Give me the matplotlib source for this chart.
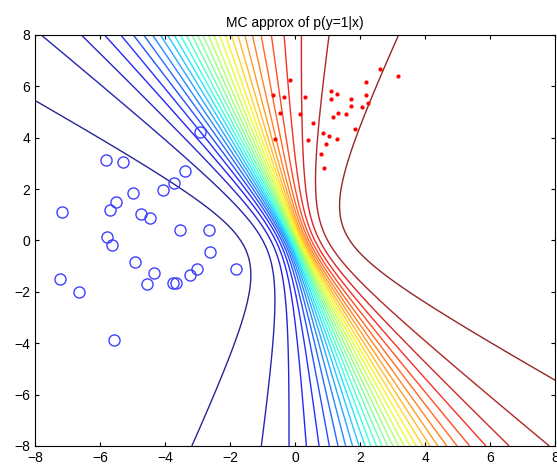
import numpy as np
import matplotlib
matplotlib.use("Agg")
import matplotlib.pyplot as plt

plt.rcParams["font.family"] = ["Liberation Sans", "DejaVu Sans"]

# class 0 points (blue circles)
x0_1 = [-5.83, -5.30, -3.40, -3.73, -4.07, -5.00, -5.52, -5.71, -7.18, -4.75,
        -4.48, -3.53, -2.64, -5.79, -5.65, -2.61, -4.93, -4.33, -3.03, -3.25,
        -1.82, -7.22, -4.55, -3.76, -3.66, -6.65, -5.56, -2.94]
x0_2 = [3.14, 3.06, 2.70, 2.25, 1.95, 1.84, 1.49, 1.17, 1.10, 1.04,
        0.88, 0.39, 0.42, 0.14, -0.17, -0.43, -0.83, -1.25, -1.10, -1.36,
        -1.12, -1.49, -1.71, -1.65, -1.65, -2.00, -3.88, 4.24]

# class 1 points (red dots)
x1_1 = [-0.16, -0.67, -0.35, 0.30, -0.46, 0.16, 0.55, -0.62, 0.40, 0.84,
        1.04, 1.28, 0.95, 0.80, 0.89, 1.11, 1.28, 1.10, 1.17, 1.32,
        1.55, 1.71, 1.72, 2.06, 2.18, 2.19, 2.24, 1.84, 2.60, 3.17]
x1_2 = [6.26, 5.68, 5.59, 5.58, 4.95, 4.93, 4.59, 3.96, 3.92, 4.18,
        4.05, 3.96, 3.77, 3.37, 2.81, 5.80, 5.69, 5.50, 4.82, 4.97,
        4.93, 5.49, 5.23, 5.20, 6.16, 5.65, 5.36, 4.33, 6.67, 6.41]

# gaussian posterior over the weights (estimated from the contours)
w_mean = [3.767, 1.376]
w_cov = [[2.979, 0.904],
         [0.904, 1.175]]

n_levels = 30

# p(y=1|x) = E[sigmoid(w.x)], w.x ~ N(m.x, x'Sx), averaged on a fixed grid of z
z = np.linspace(-7, 7, 1401)
pz = np.exp(-z**2 / 2)
pz = pz / pz.sum()

xs = np.linspace(-8, 8, 241)
gx, gy = np.meshgrid(xs, xs)
G = np.column_stack([gx.ravel(), gy.ravel()])
mu = G @ np.array(w_mean)
sd = np.sqrt(np.einsum("ij,jk,ik->i", G, np.array(w_cov), G))
A = mu[:, None] + sd[:, None] * z[None, :]
P = ((1 / (1 + np.exp(-A))) @ pz).reshape(gx.shape)

fig = plt.figure(figsize=(5.57, 4.66), dpi=100)
ax = fig.add_axes([0.063, 0.043, 0.934, 0.882])
levels = np.arange(1, n_levels + 1) / (n_levels + 1)
ax.contour(gx, gy, P, levels=levels, cmap="jet", linewidths=1.0, alpha=0.85)
ax.plot(x0_1, x0_2, "o", mfc="none", mec=(0.25, 0.25, 1.0), ms=8, mew=1.0)
ax.plot(x1_1, x1_2, ".", color="red", ms=4)

ax.set_xlim(-8, 8)
ax.set_ylim(-8, 8)
ax.set_xticks(range(-8, 9, 2))
ax.set_yticks(range(-8, 9, 2))
ax.tick_params(direction="in", top=True, right=True, labelsize=10, length=3)
ax.set_title("MC approx of p(y=1|x)", fontsize=10)

fig.savefig("out.png", dpi=100)
